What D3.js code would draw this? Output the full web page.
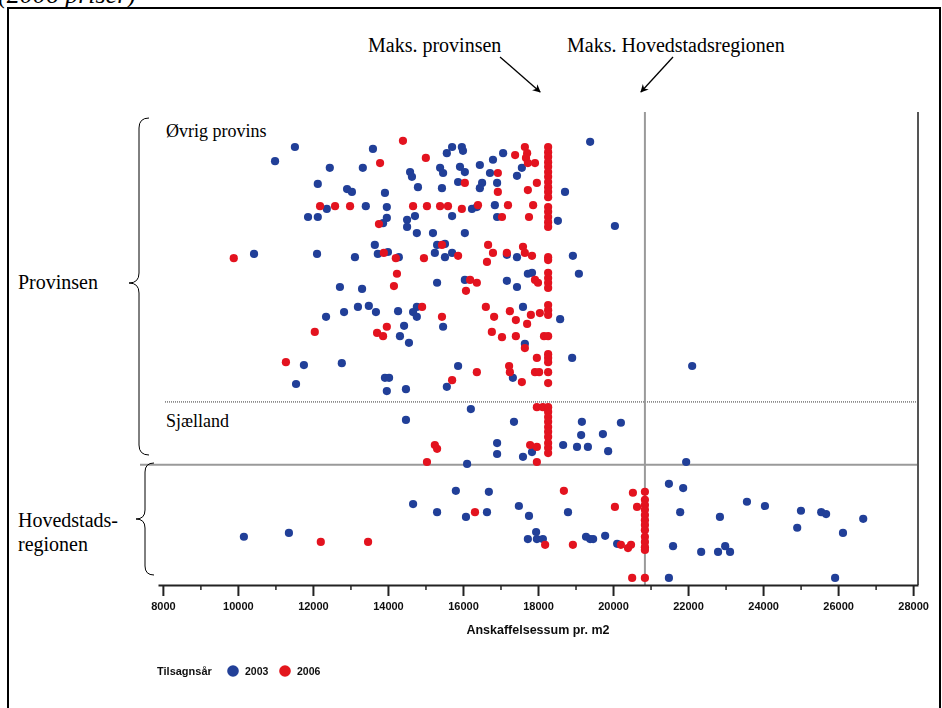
<!DOCTYPE html>
<html>
<head>
<meta charset="utf-8">
<script src="https://cdn.jsdelivr.net/npm/d3@7"></script>
<style>
  html, body { margin: 0; padding: 0; background: #fff; }
  svg { display: block; }
</style>
</head>
<body>
<svg id="chart" width="942" height="708"></svg>
<script>
// ---- Data -------------------------------------------------------------
// Anskaffelsessum pr. m2 (kr., 2006-priser) and vertical placement (0 = top, 100 = bottom)
const xTicks = [8000, 10000, 12000, 14000, 16000, 18000, 20000, 22000, 24000, 26000, 28000];
const xMinorTicks = [9000, 11000, 13000, 15000, 17000, 19000, 21000, 23000, 25000, 27000];
const xDomain = [7870, 28130];

const maxProvinsen = 18270;     // maksimumsbeløb, provinsen
const maxHovedstad = 20850;     // maksimumsbeløb, hovedstadsregionen
const breakSjaelland = 61.3;    // grænse Øvrig provins / Sjælland
const breakHovedstad = 74.6;    // grænse Provinsen / Hovedstadsregionen

const legendYears = ["2003", "2006"];

// Tilsagnsår 2003
const series2003 = [
  [11520,7.4],[10990,10.4],[13600,7.8],[15570,8.7],[15710,7.4],[15970,7.4],[16000,8.2],
  [12450,11.8],[13330,11.8],[14590,12.7],[14640,13.7],[15390,11.8],[15470,12.9],[12130,15.2],
  [12910,16.3],[13040,16.9],[13920,17.1],[14800,15.9],[15440,16.1],[13410,19.9],[12370,20.5],
  [13970,20.1],[11870,22.2],[12130,22.2],[13970,22.4],[13870,23.5],[14510,22.8],[14720,22.0],
  [14510,24.3],[14770,25.6],[15200,25.6],[13650,28.1],[14000,29.6],[15310,28.1],[15520,27.9],
  [15250,29.8],[15520,30.7],[15710,29.8],[10430,30.0],[12110,30.0],[13120,30.7],[14290,30.7],
  [13730,30.0],[19390,6.3],[15920,11.6],[16050,12.7],[16450,11.2],[16800,10.1],[16720,12.9],
  [17070,8.7],[17570,11.8],[17440,13.5],[15870,14.8],[16510,15.0],[16450,16.1],[16910,15.0],
  [18720,16.9],[16240,20.5],[16370,20.1],[16850,19.7],[15710,22.0],[16910,22.2],[18530,23.0],
  [20050,24.1],[16050,25.6],[17170,30.2],[17440,30.7],[18930,30.4],[19090,34.2],[15310,36.1],
  [16050,35.5],[17170,35.7],[17440,37.0],[17730,34.2],[17840,34.0],[12720,37.0],[13310,37.4],
  [12350,43.3],[12830,42.3],[13200,41.2],[13490,41.0],[13680,42.3],[14270,42.1],[14770,41.2],
  [14670,42.3],[14770,43.3],[15470,45.4],[14430,45.2],[14320,47.4],[14560,48.8],[17600,41.2],
  [18590,43.8],[17650,49.0],[18910,52.0],[22110,53.7],[15870,53.7],[11760,53.5],[12770,53.1],
  [11550,57.5],[13920,56.2],[14030,56.2],[13970,59.0],[14480,58.6],[15570,58.1],[17330,56.2],
  // Sjælland
  [16210,62.8],[14480,65.1],[17360,65.5],[19170,65.5],[19150,68.3],[19730,68.1],[20210,65.7],
  [16910,70.0],[16910,72.3],[17600,72.9],[17840,71.9],[18670,70.4],[19040,70.8],[19330,70.8],
  [19870,71.7],[16110,74.4],[21950,74.0],
  // Hovedstadsregionen
  [10160,89.8],[11360,89.0],[14670,82.9],[15310,84.6],[15810,80.1],[16080,85.6],[16640,84.6],
  [16690,80.3],[17490,83.3],[17760,85.4],[17950,88.8],[17730,90.3],[17970,90.3],[18130,90.3],
  [18800,84.6],[19280,89.8],[19390,90.3],[19470,90.3],[19790,89.6],[20110,91.3],[21490,78.6],
  [21870,79.5],[21790,84.6],[22850,85.6],[23570,82.4],[24050,83.3],[25010,84.3],[25550,84.6],
  [25680,85.0],[24910,87.9],[26670,86.0],[26130,89.0],[21600,91.8],[22350,93.0],[22800,93.0],
  [22990,91.8],[23120,93.0],[21490,98.5],[25920,98.5]
];

// Tilsagnsår 2006
const series2006 = [
  [14400,6.1],[13790,10.8],[15010,9.7],[12190,19.9],[12590,19.9],[12990,19.9],[14670,19.9],
  [15040,19.9],[15390,19.9],[15600,19.9],[13760,23.7],[15440,28.1],[9890,30.9],[14210,30.9],
  [14960,30.9],[13890,29.8],[17650,7.4],[17710,8.7],[17680,9.7],[17390,9.1],[16930,12.9],
  [17730,10.8],[17920,10.8],[16050,15.0],[16930,16.9],[17730,16.5],[17970,15.0],[15970,20.5],
  [16400,19.7],[17200,19.7],[17870,19.7],[17040,22.2],[17760,22.2],[15870,30.4],[16670,28.1],
  [16800,29.8],[16640,31.7],[17170,29.8],[17600,28.5],[17650,29.8],[17840,30.4],[14240,34.2],
  [14160,36.8],[16190,35.5],[16370,36.1],[16080,37.8],[17920,35.5],[18000,36.1],[14910,41.2],
  [15440,43.3],[16610,41.2],[16830,43.3],[17250,42.1],[17410,44.0],[17810,42.9],[17710,44.8],
  [18050,42.5],[16770,46.5],[17040,47.6],[17410,47.4],[18160,47.4],[17650,49.9],[17970,52.0],
  [13710,46.7],[13870,47.4],[13970,45.4],[12050,46.5],[11280,52.9],[16370,55.0],[17230,53.7],
  [17250,55.0],[17920,55.0],[18030,55.0],[15710,56.7],[17570,57.1],
  // Sjælland
  [17970,62.4],[18130,62.4],[15250,70.4],[15310,71.2],[15040,74.0],[17790,70.4],[17970,70.8],
  [17970,74.0],
  // Hovedstadsregionen
  [12210,90.9],[13470,90.9],[16320,84.6],[18190,91.5],[18690,80.1],[18930,91.5],[20050,83.5],
  [20210,91.5],[20400,92.2],[20480,91.5],[20530,80.5],[20640,83.5],[20510,98.5]
];

// 2006-projekter der ligger præcis på maksimumsbeløbet
const maxProvinsenRows = [7.4,8.5,9.5,10.6,11.6,12.7,13.7,14.8,15.9,16.9,18.0,20.1,21.1,22.2,
  23.3,24.3,30.7,31.3,34.0,35.1,36.1,37.2,40.8,41.9,42.9,47.4,51.2,52.0,52.9,55.0,57.3,
  62.4,63.4,64.5,65.5,66.6,67.6,68.7,70.0,71.0,72.1];
const maxHovedstadRows = [80.3,82.0,83.1,84.1,85.2,86.3,87.3,88.4,89.8,90.9,92.0,92.6,98.5];

// ---- Drawing ----------------------------------------------------------
const colors = { "2003": "#213f98", "2006": "#e3131f" };
const serif = "'Liberation Serif', 'Times New Roman', serif";
const sans = "'Liberation Sans', Arial, sans-serif";

const svg = d3.select("#chart");
const plot = { left: 158, right: 918, top: 112, bottom: 585 };

const x = d3.scaleLinear().domain(xDomain).range([plot.left, plot.right]);
const y = d3.scaleLinear().domain([0, 100]).range([plot.top, plot.bottom]);

const defs = svg.append("defs");
defs.append("filter").attr("id", "soft")
  .append("feGaussianBlur").attr("stdDeviation", 0.45);
defs.append("marker")
  .attr("id", "arrow").attr("viewBox", "0 0 10 10")
  .attr("refX", 9).attr("refY", 5)
  .attr("markerWidth", 11).attr("markerHeight", 8)
  .attr("markerUnits", "userSpaceOnUse")
  .attr("orient", "auto")
  .append("path").attr("d", "M0,0 L10,5 L0,10 L3,5 Z").attr("fill", "#000");

// Subtitle, partly above the frame
svg.append("text")
  .attr("x", -2).attr("y", 3)
  .attr("font-family", serif).attr("font-style", "italic")
  .attr("font-size", 26).attr("fill", "#000")
  .text("(2006 priser)");

// Outer frame
svg.append("rect")
  .attr("x", 8).attr("y", 8).attr("width", 932).attr("height", 730)
  .attr("fill", "none").attr("stroke", "#000").attr("stroke-width", 2);

// Region divisions
svg.append("line")
  .attr("x1", plot.left + 7).attr("x2", plot.right)
  .attr("y1", y(breakSjaelland)).attr("y2", y(breakSjaelland))
  .attr("stroke", "#333").attr("stroke-width", 1).attr("stroke-dasharray", "1,1");
svg.append("line")
  .attr("x1", 140).attr("x2", plot.right)
  .attr("y1", y(breakHovedstad)).attr("y2", y(breakHovedstad))
  .attr("stroke", "#9a9a9a").attr("stroke-width", 2);

// Maks. hovedstadsregionen
svg.append("line")
  .attr("x1", x(maxHovedstad)).attr("x2", x(maxHovedstad))
  .attr("y1", plot.top).attr("y2", plot.bottom)
  .attr("stroke", "#9a9a9a").attr("stroke-width", 2);

// Right edge of plot
svg.append("line")
  .attr("x1", plot.right).attr("x2", plot.right)
  .attr("y1", plot.top).attr("y2", plot.bottom)
  .attr("stroke", "#555").attr("stroke-width", 2);

// Points
const pts = svg.append("g");
function drawSeries(data, color) {
  pts.append("g").selectAll("circle").data(data).join("circle")
    .attr("cx", d => x(d[0])).attr("cy", d => y(d[1]))
    .attr("r", 4.1).attr("fill", color);
}
drawSeries(series2003, colors["2003"]);
drawSeries(series2006, colors["2006"]);
drawSeries(maxProvinsenRows.map(r => [maxProvinsen, r]), colors["2006"]);
drawSeries(maxHovedstadRows.map(r => [maxHovedstad, r]), colors["2006"]);

// X axis
const axisG = svg.append("g").attr("transform", `translate(0,${plot.bottom})`);
axisG.call(d3.axisBottom(x).tickValues(xMinorTicks).tickSize(5).tickFormat("").tickSizeOuter(0))
  .call(g => g.select(".domain").remove())
  .selectAll("line").attr("stroke", "#222").attr("stroke-width", 1.5);
const axisMajor = svg.append("g").attr("transform", `translate(0,${plot.bottom})`)
  .call(d3.axisBottom(x).tickValues(xTicks).tickSize(11).tickPadding(6)
    .tickFormat(d3.format("d")).tickSizeOuter(0));
axisMajor.select(".domain").attr("stroke", "#222").attr("stroke-width", 2);
axisMajor.selectAll(".tick line").attr("stroke", "#222").attr("stroke-width", 2);
axisMajor.selectAll(".tick text")
  .attr("font-family", sans).attr("font-size", 11).attr("font-weight", "bold")
  .attr("fill", "#111").attr("filter", "url(#soft)");

svg.append("text")
  .attr("x", (x(xTicks[0]) + x(xTicks[xTicks.length - 1])) / 2).attr("y", 634)
  .attr("text-anchor", "middle")
  .attr("font-family", sans).attr("font-size", 12.5).attr("font-weight", "bold")
  .attr("fill", "#111").attr("filter", "url(#soft)")
  .text("Anskaffelsessum pr. m2");

// Legend
const legend = svg.append("g").attr("filter", "url(#soft)");
legend.append("text")
  .attr("x", 157).attr("y", 675)
  .attr("font-family", sans).attr("font-size", 11).attr("font-weight", "bold")
  .attr("fill", "#111").text("Tilsagnsår");
legendYears.forEach((yr, i) => {
  const lx = 233 + i * 52;
  legend.append("circle").attr("cx", lx).attr("cy", 671).attr("r", 5.8).attr("fill", colors[yr]);
  legend.append("text")
    .attr("x", lx + 12).attr("y", 675)
    .attr("font-family", sans).attr("font-size", 10.5).attr("font-weight", "bold")
    .attr("fill", "#111").text(yr);
});

// Annotations at the top
svg.append("text")
  .attr("x", 368).attr("y", 52)
  .attr("font-family", serif).attr("font-size", 20).attr("fill", "#000")
  .text("Maks. provinsen");
svg.append("text")
  .attr("x", 567).attr("y", 52)
  .attr("font-family", serif).attr("font-size", 20).attr("fill", "#000")
  .text("Maks. Hovedstadsregionen");
svg.append("line")
  .attr("x1", 500).attr("y1", 57).attr("x2", x(maxProvinsen) - 8).attr("y2", 92)
  .attr("stroke", "#000").attr("stroke-width", 1.3).attr("marker-end", "url(#arrow)");
svg.append("line")
  .attr("x1", 673).attr("y1", 57).attr("x2", x(maxHovedstad) - 4).attr("y2", 92)
  .attr("stroke", "#000").attr("stroke-width", 1.3).attr("marker-end", "url(#arrow)");

// Region labels inside plot
svg.append("text")
  .attr("x", 166).attr("y", 137)
  .attr("font-family", serif).attr("font-size", 18).attr("fill", "#000")
  .text("Øvrig provins");
svg.append("text")
  .attr("x", 166).attr("y", 427)
  .attr("font-family", serif).attr("font-size", 18).attr("fill", "#000")
  .text("Sjælland");

// Braces and group labels on the left
function bracePath(xr, y1, y2, ym, w) {
  const xm = xr - w / 2, xp = xr - w, r = w / 2;
  return `M${xr},${y1} Q${xm},${y1} ${xm},${y1 + r} L${xm},${ym - r} ` +
         `Q${xm},${ym} ${xp},${ym} Q${xm},${ym} ${xm},${ym + r} ` +
         `L${xm},${y2 - r} Q${xm},${y2} ${xr},${y2}`;
}
svg.append("path")
  .attr("d", bracePath(149, 118, 455, 283, 20))
  .attr("fill", "none").attr("stroke", "#000").attr("stroke-width", 1);
svg.append("path")
  .attr("d", bracePath(154, 463, 575, 519, 18))
  .attr("fill", "none").attr("stroke", "#000").attr("stroke-width", 1);

svg.append("text")
  .attr("x", 18).attr("y", 289)
  .attr("font-family", serif).attr("font-size", 20).attr("fill", "#000")
  .text("Provinsen");
svg.append("text")
  .attr("x", 18).attr("y", 527)
  .attr("font-family", serif).attr("font-size", 20).attr("fill", "#000")
  .text("Hovedstads-");
svg.append("text")
  .attr("x", 18).attr("y", 551)
  .attr("font-family", serif).attr("font-size", 20).attr("fill", "#000")
  .text("regionen");
</script>
</body>
</html>
